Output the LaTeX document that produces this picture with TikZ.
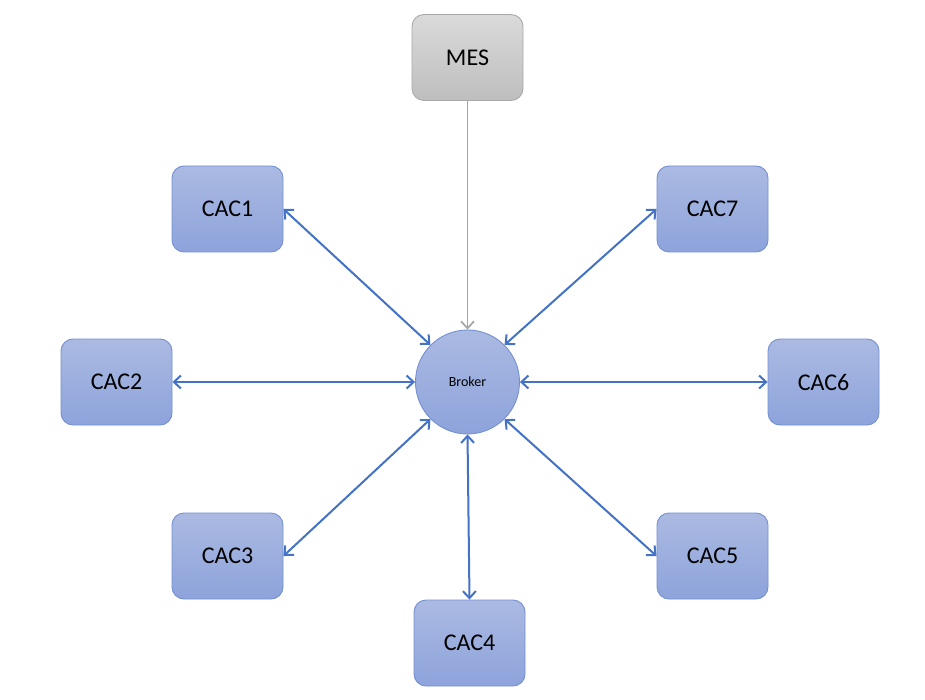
\documentclass[tikz,border=0pt]{standalone}
\usepackage{fontspec}
\setmainfont{Carlito}
\usetikzlibrary{arrows.meta}
\definecolor{boxtop}{HTML}{ABBAE2}
\definecolor{boxbot}{HTML}{8DA3DB}
\definecolor{boxline}{HTML}{7490D2}
\definecolor{greytop}{HTML}{DADADA}
\definecolor{greybot}{HTML}{BEBEBE}
\definecolor{greyline}{HTML}{A9A9A9}
\definecolor{linkblue}{HTML}{4472C4}
\definecolor{linkgrey}{HTML}{A5A5A5}
\begin{document}
\begin{tikzpicture}[x=1pt,y=-1pt,
  cacbox/.style={draw=boxline, line width=0.9pt, rounded corners=12pt,
    top color=boxtop, bottom color=boxbot,
    minimum width=111pt, minimum height=86pt, inner sep=0pt,
    font=\fontsize{24}{28}\selectfont},
  mesbox/.style={cacbox, draw=greyline, top color=greytop, bottom color=greybot},
  hub/.style={circle, draw=boxline, line width=0.9pt,
    top color=boxtop, bottom color=boxbot,
    minimum size=104pt, inner sep=0pt, font=\fontsize{14}{16}\selectfont},
  link/.style={draw=linkblue, line width=2pt,
    {Straight Barb[length=7pt,width=13pt,line width=2pt]}-{Straight Barb[length=7pt,width=13pt,line width=2pt]}},
  feed/.style={draw=linkgrey, line width=1.7pt,
    -{Straight Barb[length=7pt,width=13pt,line width=1.7pt]}}
]
\useasboundingbox (0,0) rectangle (925,700);
\fill[white] (0,0) rectangle (925,700);

\node[mesbox] (mes) at (467.5,57.5) {MES};
\node[hub] (broker) at (467.5,382) {Broker};

\node[cacbox] (cac1) at (227.5,209) {CAC1};
\node[cacbox] (cac2) at (116.5,382) {CAC2};
\node[cacbox] (cac3) at (227.5,556) {CAC3};
\node[cacbox] (cac4) at (469.5,643) {CAC4};
\node[cacbox] (cac5) at (712.5,556) {CAC5};
\node[cacbox] (cac6) at (823.5,382) {CAC6};
\node[cacbox] (cac7) at (712.5,209) {CAC7};

\draw[feed] (mes.south) -- (broker.north);
\draw[link] (cac1.east) -- (broker.135);
\draw[link] (cac2.east) -- (broker.west);
\draw[link] (cac3.east) -- (broker.225);
\draw[link] (cac4.north) -- (broker.south);
\draw[link] (cac5.west) -- (broker.315);
\draw[link] (cac6.west) -- (broker.east);
\draw[link] (cac7.west) -- (broker.45);
\end{tikzpicture}
\end{document}
